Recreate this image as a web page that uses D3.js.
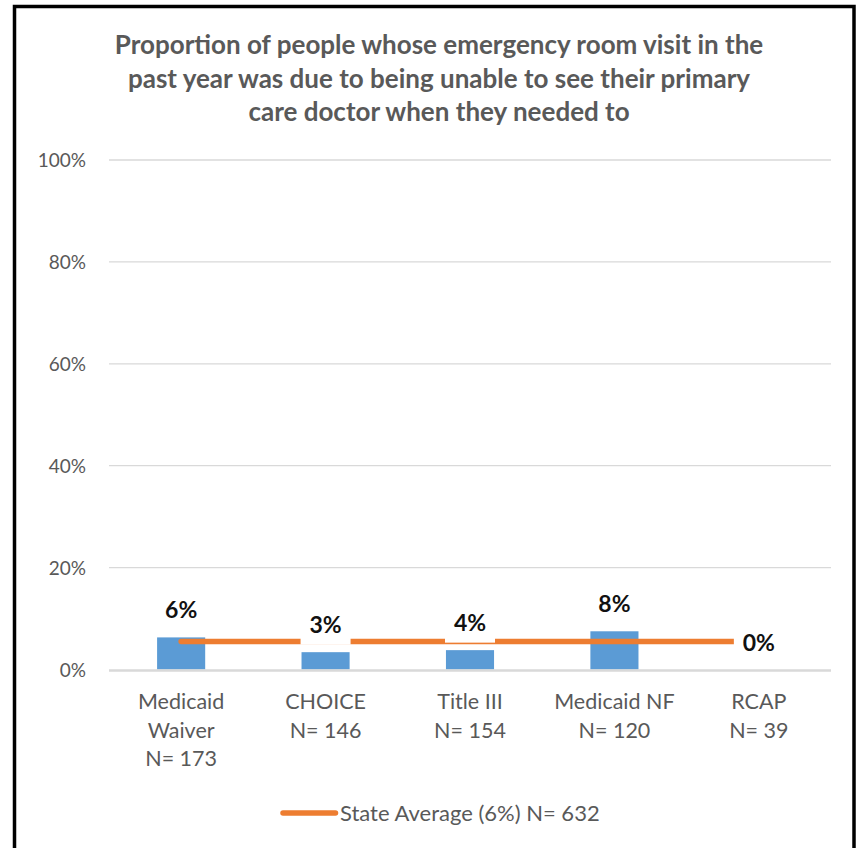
<!DOCTYPE html>
<html>
<head>
<meta charset="utf-8">
<script src="https://cdn.jsdelivr.net/npm/d3@7"></script>
<style>
  html, body { margin: 0; padding: 0; background: #fff; }
  svg { display: block; }
  text { font-family: Lato, "Open Sans", sans-serif; }
</style>
</head>
<body>
<svg id="chart" width="861" height="848"></svg>
<script>
// ---- data ----
const titleLines = [
  "Proportion of people whose emergency room visit in the",
  "past year was due to being unable to see their primary",
  "care doctor when they needed to"
];
const categories = ["Medicaid Waiver", "CHOICE", "Title III", "Medicaid NF", "RCAP"];
const categoryLabelLines = [
  ["Medicaid", "Waiver", "N= 173"],
  ["CHOICE", "N= 146"],
  ["Title III", "N= 154"],
  ["Medicaid NF", "N= 120"],
  ["RCAP", "N= 39"]
];
const values = [6.3, 3.4, 3.8, 7.5, 0];          // percent
const stateAverage = 5.5;                          // percent
const legendLabel = "State Average (6%) N= 632";
const yTicks = [0, 20, 40, 60, 80, 100];

// ---- chart ----
const svg = d3.select("#chart");
const gray = "#595959";
const blue = "#5b9bd5";
const orange = "#ed7d31";

// frame
svg.append("rect")
  .attr("x", 14.5).attr("y", 6.5)
  .attr("width", 839.5).attr("height", 900)
  .attr("fill", "none").attr("stroke", "#000").attr("stroke-width", 3.5);

// title
svg.append("g").selectAll("text")
  .data(titleLines).join("text")
  .attr("x", 439)
  .attr("y", (d, i) => 54 + i * 33.5)
  .attr("text-anchor", "middle")
  .attr("fill", gray)
  .attr("font-weight", "bold")
  .attr("font-size", 26)
  .text(d => d);

const plotLeft = 109, plotRight = 831;
const x = d3.scaleBand()
  .domain(categories)
  .range([plotLeft, plotRight])
  .paddingInner(0.667)
  .paddingOuter(0.333);
const y = d3.scaleLinear().domain([0, 100]).range([669.5, 160]);

// gridlines
svg.append("g").selectAll("line")
  .data(yTicks.filter(t => t > 0)).join("line")
  .attr("x1", plotLeft).attr("x2", plotRight)
  .attr("y1", d => y(d)).attr("y2", d => y(d))
  .attr("stroke", "#d9d9d9").attr("stroke-width", 1.3);

// y axis labels
const yAxis = d3.axisLeft(y).tickValues(yTicks).tickFormat(d => d + "%").tickSize(0).tickPadding(0);
const ya = svg.append("g").attr("transform", `translate(86,0)`).call(yAxis);
ya.select(".domain").remove();
ya.selectAll("text")
  .attr("fill", gray).attr("font-size", 19)
  .attr("font-family", "Lato, 'Open Sans', sans-serif")
  .attr("dy", "0.35em");

// bars
svg.append("g").selectAll("rect")
  .data(values).join("rect")
  .attr("x", (d, i) => x(categories[i]))
  .attr("width", x.bandwidth())
  .attr("y", d => y(d))
  .attr("height", d => y(0) - y(d))
  .attr("fill", blue);

// x axis baseline
svg.append("line")
  .attr("x1", plotLeft).attr("x2", plotRight)
  .attr("y1", y(0) + 1).attr("y2", y(0) + 1)
  .attr("stroke", "#d9d9d9").attr("stroke-width", 2.5);

// state average line
const lineGen = d3.line()
  .x(d => x(d) + x.bandwidth() / 2)
  .y(() => y(stateAverage));
svg.append("path")
  .datum(categories)
  .attr("d", lineGen)
  .attr("fill", "none")
  .attr("stroke", orange)
  .attr("stroke-width", 5.5)
  .attr("stroke-linecap", "round");

// data labels with white background
const lbl = svg.append("g").selectAll("g")
  .data(values).join("g")
  .attr("transform", (d, i) => `translate(${x(categories[i]) + x.bandwidth() / 2},${y(d)})`);
lbl.append("rect")
  .attr("x", -25).attr("width", 50)
  .attr("y", -39).attr("height", 31.5)
  .attr("fill", "#fff");
lbl.append("text")
  .attr("text-anchor", "middle")
  .attr("y", -19)
  .attr("fill", "#111")
  .attr("font-weight", "bold")
  .attr("font-size", 23)
  .text(d => Math.round(d) + "%");

// category labels
const cat = svg.append("g").selectAll("text")
  .data(categories).join("text")
  .attr("text-anchor", "middle")
  .attr("fill", gray)
  .attr("font-size", 21.5);
cat.each(function(d, i) {
  d3.select(this).selectAll("tspan")
    .data(categoryLabelLines[i]).join("tspan")
    .attr("x", x(d) + x.bandwidth() / 2)
    .attr("y", (t, j) => 709 + j * 28.5)
    .text(t => t);
});

// legend
svg.append("line")
  .attr("x1", 283).attr("x2", 335.5)
  .attr("y1", 813).attr("y2", 813)
  .attr("stroke", orange).attr("stroke-width", 5.5)
  .attr("stroke-linecap", "round");
svg.append("text")
  .attr("x", 340).attr("y", 821)
  .attr("fill", gray).attr("font-size", 22)
  .text(legendLabel);
</script>
</body>
</html>
